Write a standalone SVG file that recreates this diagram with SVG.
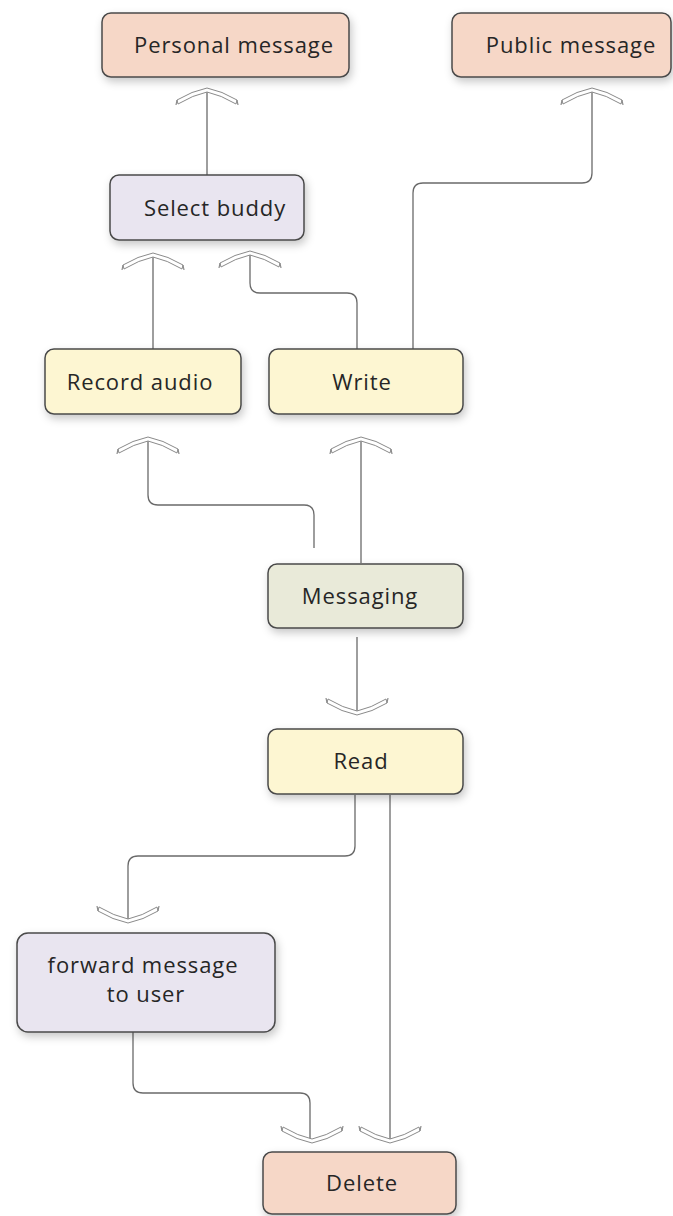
<svg xmlns="http://www.w3.org/2000/svg" xmlns:xlink="http://www.w3.org/1999/xlink" width="673" height="1216" viewBox="0 0 673 1216">
  <defs>
    <filter id="shadow" x="-20%" y="-30%" width="140%" height="170%">
      <feDropShadow dx="2" dy="4" stdDeviation="4" flood-color="#000" flood-opacity="0.22"/>
    </filter>
    <!-- hollow curved chevron arrowhead, tip at origin, pointing up -->
    <g id="ah">
      <path d="M-30,12 Q-15,3 0,0 Q15,3 30,12 L29,16 Q14,7 0,4 Q-14,7 -29,16 Z" fill="#fff" stroke="#8a8a8a" stroke-width="1"/>
      <path d="M-30,12 L-31,17 M30,12 L31,17" stroke="#8a8a8a" stroke-width="1.2" fill="none"/>
    </g>
    <style>
      .box { stroke: #4a4a4a; stroke-width: 1.5; filter: url(#shadow); }
      .peach { fill: #f6d7c7; }
      .lav { fill: #e9e5f0; }
      .yel { fill: #fdf6d2; }
      .grn { fill: #e9ead9; }
      .lbl { font-family: "Open Sans", "Liberation Sans", sans-serif; font-size: 22px; letter-spacing: 0.9px; fill: #262626; text-anchor: middle; }
      .wire { fill: none; stroke: #6a6a6a; stroke-width: 1.3; }
    </style>
  </defs>

  <rect width="673" height="1216" fill="#fff"/>

  <!-- connectors -->
  <g id="connectors">
    <path class="wire" d="M207,175 V90"/>
    <path class="wire" d="M413,349 V193 Q413,183 423,183 H582 Q592,183 592,173 V90"/>
    <path class="wire" d="M153,349 V255"/>
    <path class="wire" d="M357,349 V303 Q357,293 347,293 H260 Q250,293 250,283 V253"/>
    <path class="wire" d="M314,548 V515 Q314,505 304,505 H158 Q148,505 148,495 V439"/>
    <path class="wire" d="M361,563 V439"/>
    <path class="wire" d="M357,637 V713"/>
    <path class="wire" d="M355,795 V846 Q355,856 345,856 H138 Q128,856 128,866 V921"/>
    <path class="wire" d="M390,795 V1141"/>
    <path class="wire" d="M133,1032 V1083 Q133,1093 143,1093 H300 Q310,1093 310,1103 V1141"/>

    <use xlink:href="#ah" transform="translate(207,88)"/>
    <use xlink:href="#ah" transform="translate(592,88)"/>
    <use xlink:href="#ah" transform="translate(153,253)"/>
    <use xlink:href="#ah" transform="translate(250,251)"/>
    <use xlink:href="#ah" transform="translate(148,437)"/>
    <use xlink:href="#ah" transform="translate(361,437)"/>
    <use xlink:href="#ah" transform="translate(357,715) rotate(180)"/>
    <use xlink:href="#ah" transform="translate(128,923) rotate(180)"/>
    <use xlink:href="#ah" transform="translate(312,1143) rotate(180)"/>
    <use xlink:href="#ah" transform="translate(390,1143) rotate(180)"/>
  </g>

  <g id="personal-message">
    <rect class="box peach" x="102" y="13" width="247" height="64" rx="9"/>
    <text class="lbl" x="234" y="53">Personal message</text>
  </g>
  <g id="public-message">
    <rect class="box peach" x="452" y="13" width="219" height="64" rx="9"/>
    <text class="lbl" x="571" y="53">Public message</text>
  </g>
  <g id="select-buddy">
    <rect class="box lav" x="110" y="175" width="194" height="65" rx="9"/>
    <text class="lbl" x="215" y="216">Select buddy</text>
  </g>
  <g id="record-audio">
    <rect class="box yel" x="45" y="349" width="196" height="65" rx="9"/>
    <text class="lbl" x="140" y="390">Record audio</text>
  </g>
  <g id="write">
    <rect class="box yel" x="269" y="349" width="194" height="65" rx="9"/>
    <text class="lbl" x="362" y="390">Write</text>
  </g>
  <g id="messaging">
    <rect class="box grn" x="268" y="564" width="195" height="64" rx="9"/>
    <text class="lbl" x="360" y="604">Messaging</text>
  </g>
  <g id="read">
    <rect class="box yel" x="268" y="729" width="195" height="65" rx="9"/>
    <text class="lbl" x="361" y="769">Read</text>
  </g>
  <g id="forward-message">
    <rect class="box lav" x="17" y="933" width="258" height="99" rx="11"/>
    <text class="lbl" x="143" y="973">forward message</text>
    <text class="lbl" x="146" y="1002">to user</text>
  </g>
  <g id="delete">
    <rect class="box peach" x="263" y="1152" width="193" height="62" rx="9"/>
    <text class="lbl" x="362" y="1191">Delete</text>
  </g>
</svg>
